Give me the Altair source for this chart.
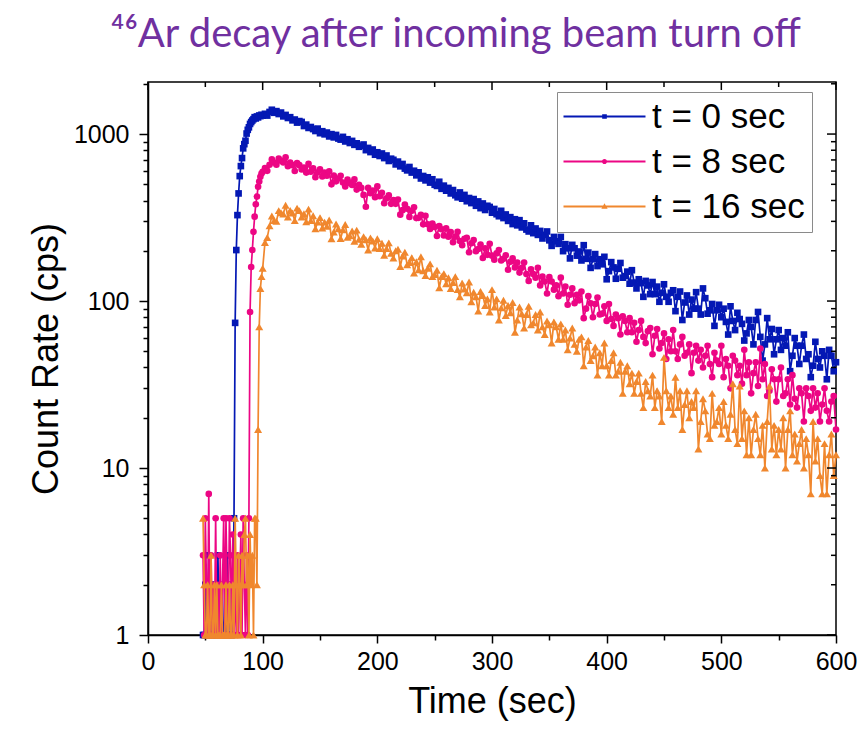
import altair as alt
import pandas as pd

# ---------------- data ----------------
series_names = ["t = 0 sec", "t = 8 sec", "t = 16 sec"]
series_colors = ["#0418B4", "#EC0684", "#F0872E"]

# time grid: 1 s bins from 48 to 100 s, then every 2 s up to 600 s
times = list(range(48, 101)) + list(range(102, 601, 2))

blue_early = [1, 1, 2, 1, 1, 3, 1, 2, 1, 1,
              1, 2, 1, 3, 1, 1, 2, 1, 1, 2,
              1, 3, 1, 2, 1, 1, 2, 5, 74, 202,
              327, 441, 560, 643, 718, 821, 870, 912, 1007, 1060,
              1097, 1150, 1180, 1205, 1228, 1262, 1240, 1275, 1258, 1292,
              1280, 1305, 1290]
blue_late = [
    1322, 1290, 1356, 1398, 1341, 1372, 1318, 1345, 1276, 1302,
    1248, 1262, 1208, 1222, 1171, 1196, 1182, 1117, 1139, 1088,
    1102, 1071, 1043, 1078, 1012, 1040, 996, 1021, 968, 999,
    955, 988, 940, 926, 962, 903, 931, 884, 910, 862,
    880, 839, 851, 866, 801, 826, 780, 808, 752, 778,
    739, 765, 718, 744, 690, 712, 701, 658, 684, 641,
    662, 621, 606, 635, 588, 603, 566, 590, 542, 561,
    528, 551, 512, 536, 497, 489, 518, 470, 491, 458,
    476, 441, 462, 430, 418, 447, 410, 432, 396, 414,
    386, 408, 372, 395, 360, 384, 351, 372, 366, 338,
    356, 331, 322, 347, 314, 330, 302, 318, 289, 309,
    284, 305, 276, 292, 268, 261, 284, 255, 272, 249,
    263, 237, 249, 261, 231, 214, 242, 228, 220, 242,
    199, 219, 207, 180, 217, 207, 187, 198, 175, 216,
    179, 195, 158, 178, 191, 162, 178, 166, 184, 135,
    151, 171, 159, 136, 156, 169, 138, 141, 150, 127,
    153, 129, 119, 135, 128, 106, 132, 124, 110, 130,
    110, 122, 99, 112, 126, 106, 99, 112, 116, 87,
    106, 114, 77, 98, 108, 83, 102, 90, 113, 90,
    83, 119, 104, 84, 88, 96, 71, 88, 95, 80,
    90, 75, 63, 93, 76, 67, 85, 78, 73, 58,
    64, 77, 70, 55, 77, 86, 61, 44, 55, 79,
    59, 68, 48, 59, 67, 51, 60, 54, 65, 38,
    47, 60, 54, 42, 54, 63, 45, 48, 35, 41,
    57, 45, 40, 50, 47, 34, 51, 47, 38, 43]

pink_early = [3, 1, 5, 2, 1, 7, 1, 3, 1, 2,
              1, 5, 1, 2, 1, 3, 1, 2, 5, 1,
              5, 2, 1, 5, 3, 1, 4, 1, 2, 1,
              3, 1, 2, 4, 1, 5, 2, 1, 3, 1,
              5, 86, 160, 202, 260, 320, 380, 422, 483, 520,
              555, 580, 595]
pink_late = [
    625, 602, 655, 705, 676, 656, 712, 691, 676, 726,
    642, 675, 651, 601, 671, 651, 613, 631, 588, 663,
    595, 624, 552, 590, 616, 557, 587, 563, 598, 500,
    564, 521, 542, 562, 513, 486, 533, 510, 495, 535,
    465, 496, 476, 432, 367, 476, 442, 459, 419, 486,
    424, 445, 385, 412, 429, 382, 403, 382, 405, 329,
    350, 378, 357, 319, 347, 364, 314, 315, 328, 288,
    324, 288, 270, 291, 278, 245, 281, 269, 247, 273,
    243, 259, 225, 243, 260, 229, 216, 236, 239, 196,
    222, 232, 199, 205, 218, 181, 207, 189, 220, 187,
    177, 193, 202, 175, 179, 188, 154, 172, 180, 159,
    170, 148, 158, 170, 145, 132, 155, 145, 138, 158,
    124, 140, 131, 111, 139, 131, 117, 124, 107, 138,
    111, 122, 95, 109, 119, 97, 109, 101, 114, 79,
    90, 107, 97, 80, 96, 105, 83, 84, 93, 76,
    96, 78, 71, 83, 79, 63, 81, 76, 65, 79,
    65, 74, 57, 67, 76, 61, 56, 66, 69, 48,
    62, 68, 52, 56, 64, 45, 59, 50, 67, 50,
    45, 55, 61, 47, 49, 55, 37, 49, 54, 44,
    51, 40, 47, 54, 42, 35, 49, 44, 42, 54,
    35, 45, 41, 30, 47, 44, 36, 41, 32, 51,
    36, 43, 28, 37, 43, 31, 52, 34, 42, 27,
    29, 39, 34, 25, 34, 40, 27, 28, 34, 24,
    36, 26, 23, 30, 28, 19, 30, 27, 22, 30,
    23, 28, 19, 24, 30, 22, 19, 25, 27, 17]

orange_early = [5, 2, 1, 1, 2, 1, 1, 3, 1, 1,
                2, 1, 2, 1, 1, 1, 2, 1, 1, 1,
                2, 1, 1, 2, 1, 1, 2, 1, 5, 2,
                1, 3, 2, 1, 3, 2, 4, 5, 2, 3,
                1, 4, 2, 3, 1, 5, 5, 2, 17, 70,
                119, 140, 157]
orange_late = [
    224, 240, 282, 323, 303, 300, 348, 338, 332, 375,
    318, 349, 337, 303, 360, 348, 319, 333, 298, 355,
    303, 324, 271, 297, 316, 274, 297, 280, 306, 236,
    259, 289, 271, 237, 267, 287, 241, 246, 263, 228,
    266, 234, 219, 243, 233, 202, 239, 229, 208, 236,
    206, 222, 188, 206, 223, 193, 181, 200, 204, 161,
    186, 196, 165, 170, 182, 147, 172, 154, 184, 152,
    142, 157, 167, 140, 144, 153, 120, 140, 146, 127,
    138, 119, 129, 140, 117, 106, 128, 118, 112, 130,
    99, 113, 106, 87, 114, 108, 94, 103, 86, 117,
    92, 103, 77, 91, 101, 82, 94, 85, 98, 65,
    77, 92, 84, 69, 83, 93, 72, 74, 83, 67,
    86, 70, 63, 76, 72, 56, 75, 70, 59, 73,
    59, 67, 51, 60, 69, 55, 50, 59, 61, 41,
    53, 58, 44, 47, 53, 36, 49, 41, 56, 41,
    36, 44, 49, 36, 38, 43, 28, 38, 41, 32,
    37, 28, 33, 37, 28, 23, 33, 29, 27, 36,
    23, 29, 27, 19, 46, 29, 23, 27, 21, 35,
    23, 29, 17, 24, 29, 20, 25, 23, 29, 13,
    19, 26, 22, 16, 15, 28, 18, 19, 23, 16,
    25, 18, 15, 21, 32, 17, 14, 31, 15, 22,
    12, 20, 12, 17, 21, 15, 12, 18, 10, 19,
    31, 13, 18, 12, 17, 13, 20, 10, 17, 22,
    12, 16, 11, 14, 17, 10, 15, 12, 7, 19,
    11, 15, 9, 7, 14, 7, 12, 16, 9, 12]

# axis tick values
x_major_ticks = [0, 100, 200, 300, 400, 500, 600]
x_minor_ticks = [50, 150, 250, 350, 450, 550]
y_major_ticks = [1, 10, 100, 1000]
y_minor_ticks = [2, 3, 4, 5, 6, 7, 8, 9, 20, 30, 40, 50, 60, 70, 80, 90,
                 200, 300, 400, 500, 600, 700, 800, 900, 2000]

# ---------------- table ----------------
series_values = [blue_early + blue_late, pink_early + pink_late, orange_early + orange_late]
for vals in series_values:
    assert len(vals) == len(times), (len(vals), len(times))

rows = []
for name, vals in zip(series_names, series_values):
    for t, v in zip(times, vals):
        rows.append({"time": t, "rate": v, "series": name})
df = pd.DataFrame(rows)

W, H = 688, 553

x_scale = alt.Scale(domain=[0, 600], nice=False, zero=False)
y_scale = alt.Scale(type="log", domain=[1, 2050], nice=False)

x_axis = alt.Axis(
    values=x_major_ticks + x_minor_ticks,
    labelExpr="datum.value % 100 === 0 ? format(datum.value, 'd') : ''",
    tickSize={"condition": {"test": "datum.value % 100 === 0", "value": 8}, "value": 5},
    labelPadding=6, titlePadding=10, labelFlush=False, labelOverlap=False, grid=False,
)
y_axis = alt.Axis(
    values=y_major_ticks + y_minor_ticks,
    labelExpr="indexof([1,10,100,1000], datum.value) >= 0 ? format(datum.value, 'd') : ''",
    tickSize={"condition": {"test": "indexof([1,10,100,1000], datum.value) >= 0", "value": 9}, "value": 5},
    labelPadding=10, titlePadding=8, labelFlush=False, labelOverlap=False, grid=False,
)
x_enc = alt.X("time:Q", scale=x_scale, axis=x_axis, title="Time (sec)")
y_enc = alt.Y("rate:Q", scale=y_scale, axis=y_axis, title="Count Rate (cps)")

marker_shapes = ["square", "circle", "triangle-up"]
marker_sizes = [44, 44, 64]

layers = []
for name, col, shp, sz in zip(series_names, series_colors, marker_shapes, marker_sizes):
    base = alt.Chart(df).transform_filter(alt.datum.series == name)
    layers.append(base.mark_line(color=col, strokeWidth=1.7).encode(x=x_enc, y=y_enc))
    layers.append(base.mark_point(filled=True, shape=shp, size=sz, color=col,
                                  opacity=1, strokeWidth=0).encode(x=x_enc, y=y_enc))

# mirrored (inward) ticks on top and right edges (same axes definitions so they merge)
def xv():
    return alt.X("v:Q", scale=x_scale, axis=x_axis, title="Time (sec)")


def yv():
    return alt.Y("v:Q", scale=y_scale, axis=y_axis, title="Count Rate (cps)")


top_major = alt.Chart(pd.DataFrame({"v": x_major_ticks})).mark_rule(color="black", strokeWidth=1.5).encode(
    x=xv(), y=alt.value(0), y2=alt.value(8))
top_minor = alt.Chart(pd.DataFrame({"v": x_minor_ticks})).mark_rule(color="black", strokeWidth=1.5).encode(
    x=xv(), y=alt.value(0), y2=alt.value(5))
right_major = alt.Chart(pd.DataFrame({"v": y_major_ticks})).mark_rule(color="black", strokeWidth=1.5).encode(
    y=yv(), x=alt.value(W), x2=alt.value(W - 9))
right_minor = alt.Chart(pd.DataFrame({"v": y_minor_ticks})).mark_rule(color="black", strokeWidth=1.5).encode(
    y=yv(), x=alt.value(W), x2=alt.value(W - 5))

# legend: line + marker symbols
legend_paths = [
    "M-3,-0.075H3V0.075H-3ZM-0.17,-0.17H0.17V0.17H-0.17Z",
    "M-3,-0.075H3V0.075H-3ZM0.19,0A0.19,0.19 0 1,1 -0.19,0A0.19,0.19 0 1,1 0.19,0Z",
    "M-3,-0.075H3V0.075H-3ZM0,-0.24L0.23,0.16H-0.23Z",
]
leg = alt.Legend(
    title=None, orient="none", legendX=409, legendY=10,
    labelFont="Liberation Sans", labelFontSize=35, labelColor="black",
    strokeColor="#8a8a8a", fillColor="white", padding=7, rowPadding=9,
    symbolOffset=23, labelOffset=30, symbolSize=747, symbolStrokeWidth=0,
    symbolOpacity=1,
)
legend_layer = alt.Chart(df).transform_filter("false").mark_point(
    filled=True, opacity=1, size=747, strokeWidth=0
).encode(
    x=x_enc, y=y_enc,
    color=alt.Color("series:N", scale=alt.Scale(domain=series_names, range=series_colors), legend=leg),
    shape=alt.Shape("series:N", scale=alt.Scale(domain=series_names, range=legend_paths), legend=leg),
)

chart = alt.layer(*layers, top_major, top_minor, right_major, right_minor, legend_layer).properties(
    width=W, height=H,
    padding={"left": 148, "top": 82, "right": 23, "bottom": 102},
    autosize=alt.AutoSizeParams(type="none"),
    title=alt.TitleParams(
        text="\u2074\u2076Ar decay after incoming beam turn off",
        font="Lato", fontSize=40, fontWeight="normal", color="#7030A0",
        anchor="middle", frame="group", dx=-36, offset=17,
    ),
).configure_view(stroke="black", strokeWidth=1.5).configure_axis(
    domainColor="black", domainWidth=1.5, tickColor="black", tickWidth=1.5,
    labelFont="Liberation Sans", labelFontSize=25, labelColor="black",
    titleFont="Liberation Sans", titleFontSize=36, titleFontWeight="normal", titleColor="black",
)

chart.save("out.html", embed_options={"renderer": "svg", "actions": False})
